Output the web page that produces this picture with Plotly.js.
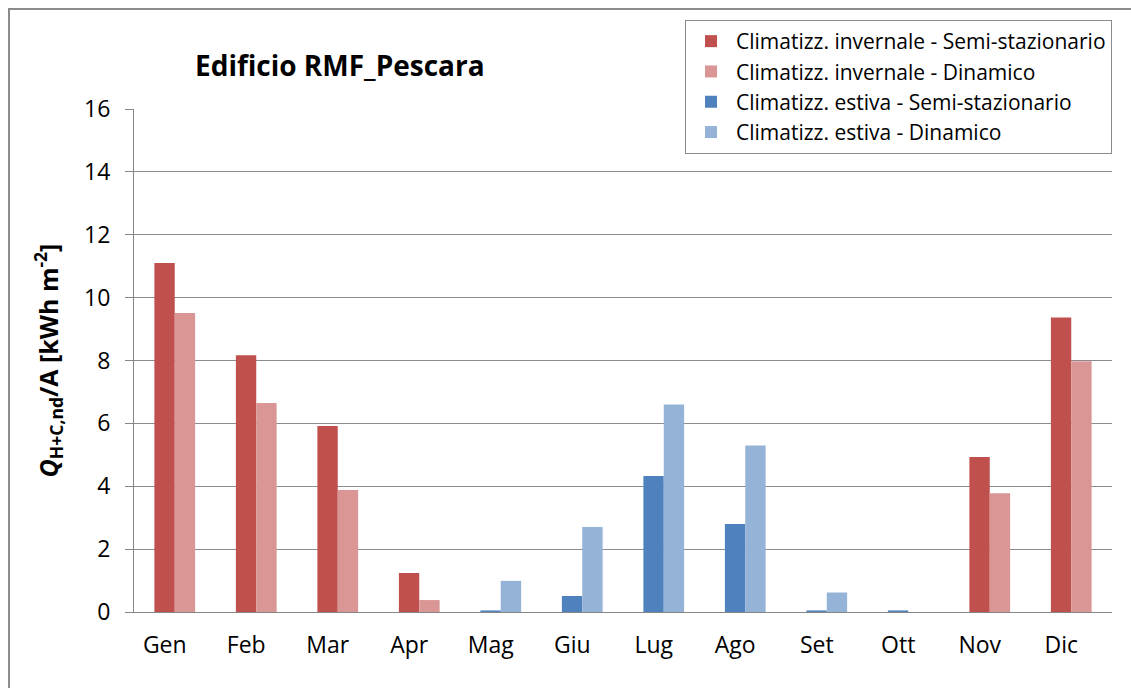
<!DOCTYPE html>
<html>
<head>
<meta charset="utf-8">
<script src="https://cdn.plot.ly/plotly-3.0.1.min.js"></script>
<style>
  html, body { margin: 0; padding: 0; background: #fff; }
  #frame { position: absolute; left: 8px; top: 8px; width: 1140px; height: 700px; border: 2px solid #8c8c8c; box-sizing: border-box; }
  #chart { position: absolute; left: 0; top: 0; width: 1131px; height: 688px; }
</style>
</head>
<body>
<div id="frame"></div>
<div id="chart"></div>
<script>
const months = ["Gen","Feb","Mar","Apr","Mag","Giu","Lug","Ago","Set","Ott","Nov","Dic"];
const invernaleSemi = [11.1, 8.17, 5.92, 1.24, null, null, null, null, null, null, 4.93, 9.37];
const invernaleDin  = [9.51, 6.65, 3.88, 0.38, null, null, null, null, null, null, 3.78, 7.98];
const estivaSemi    = [null, null, null, null, 0.05, 0.51, 4.33, 2.8, 0.05, 0.05, null, null];
const estivaDin     = [null, null, null, null, 0.99, 2.7, 6.6, 5.3, 0.62, 0, null, null];
const seriesNames = [
  "Climatizz. invernale - Semi-stazionario",
  "Climatizz. invernale - Dinamico",
  "Climatizz. estiva - Semi-stazionario",
  "Climatizz. estiva - Dinamico"
];
const colors = ["#C0504D", "#D99694", "#4F81BD", "#95B3D7"];

const font = "Open Sans, Noto Sans, sans-serif";
const data = [
  {y: invernaleSemi, og: "a"},
  {y: invernaleDin, og: "b"},
  {y: estivaSemi, og: "a"},
  {y: estivaDin, og: "b"}
].map((s, i) => ({
  type: "bar",
  x: months,
  y: s.y,
  name: seriesNames[i],
  offsetgroup: s.og,
  marker: {color: colors[i], line: {width: 0}}
}));

const layout = {
  width: 1131, height: 688,
  paper_bgcolor: "rgba(0,0,0,0)",
  plot_bgcolor: "rgba(0,0,0,0)",
  margin: {l: 134, r: 19, t: 109, b: 76, autoexpand: false},
  barmode: "group",
  bargap: 0.5,
  bargroupgap: 0,
  font: {family: font, color: "#000"},
  title: {
    text: "<b>Edificio RMF_Pescara</b>",
    font: {family: font, size: 28, color: "#000"},
    x: 195/1131, xref: "container", xanchor: "left",
    y: 1 - 66/688, yref: "container", yanchor: "middle"
  },
  xaxis: {
    type: "category",
    showgrid: false,
    showline: true, linecolor: "#868686", linewidth: 1,
    ticks: "", tickfont: {size: 23, family: font, color: "#000"},
    ticklabelstandoff: 12,
    ticklabelshift: -10
  },
  yaxis: {
    range: [0, 16], dtick: 2,
    showgrid: true, gridcolor: "#8c8c8c", gridwidth: 1,
    showline: true, linecolor: "#868686", linewidth: 1,
    ticks: "outside", ticklen: 8, tickcolor: "#868686",
    tickfont: {size: 23, family: font, color: "#000"},
    ticklabelstandoff: 10,
    zeroline: false,
    title: {
      text: "<b><i>Q</i><sub>H+C,nd</sub>/A [kWh m<sup>-2</sup>]</b>",
      font: {size: 25, family: font, color: "#000"},
      standoff: 18
    }
  },
  showlegend: true,
  legend: {
    x: 685/1131, xref: "container", y: 1 - 20/688, yref: "container",
    xanchor: "left", yanchor: "top",
    bordercolor: "#8c8c8c", borderwidth: 1, bgcolor: "#fff",
    font: {size: 21, family: font, color: "#000"},
    traceorder: "normal",
    itemwidth: 40
  }
};

Plotly.newPlot("chart", data, layout, {displayModeBar: false, staticPlot: true});
</script>
</body>
</html>
